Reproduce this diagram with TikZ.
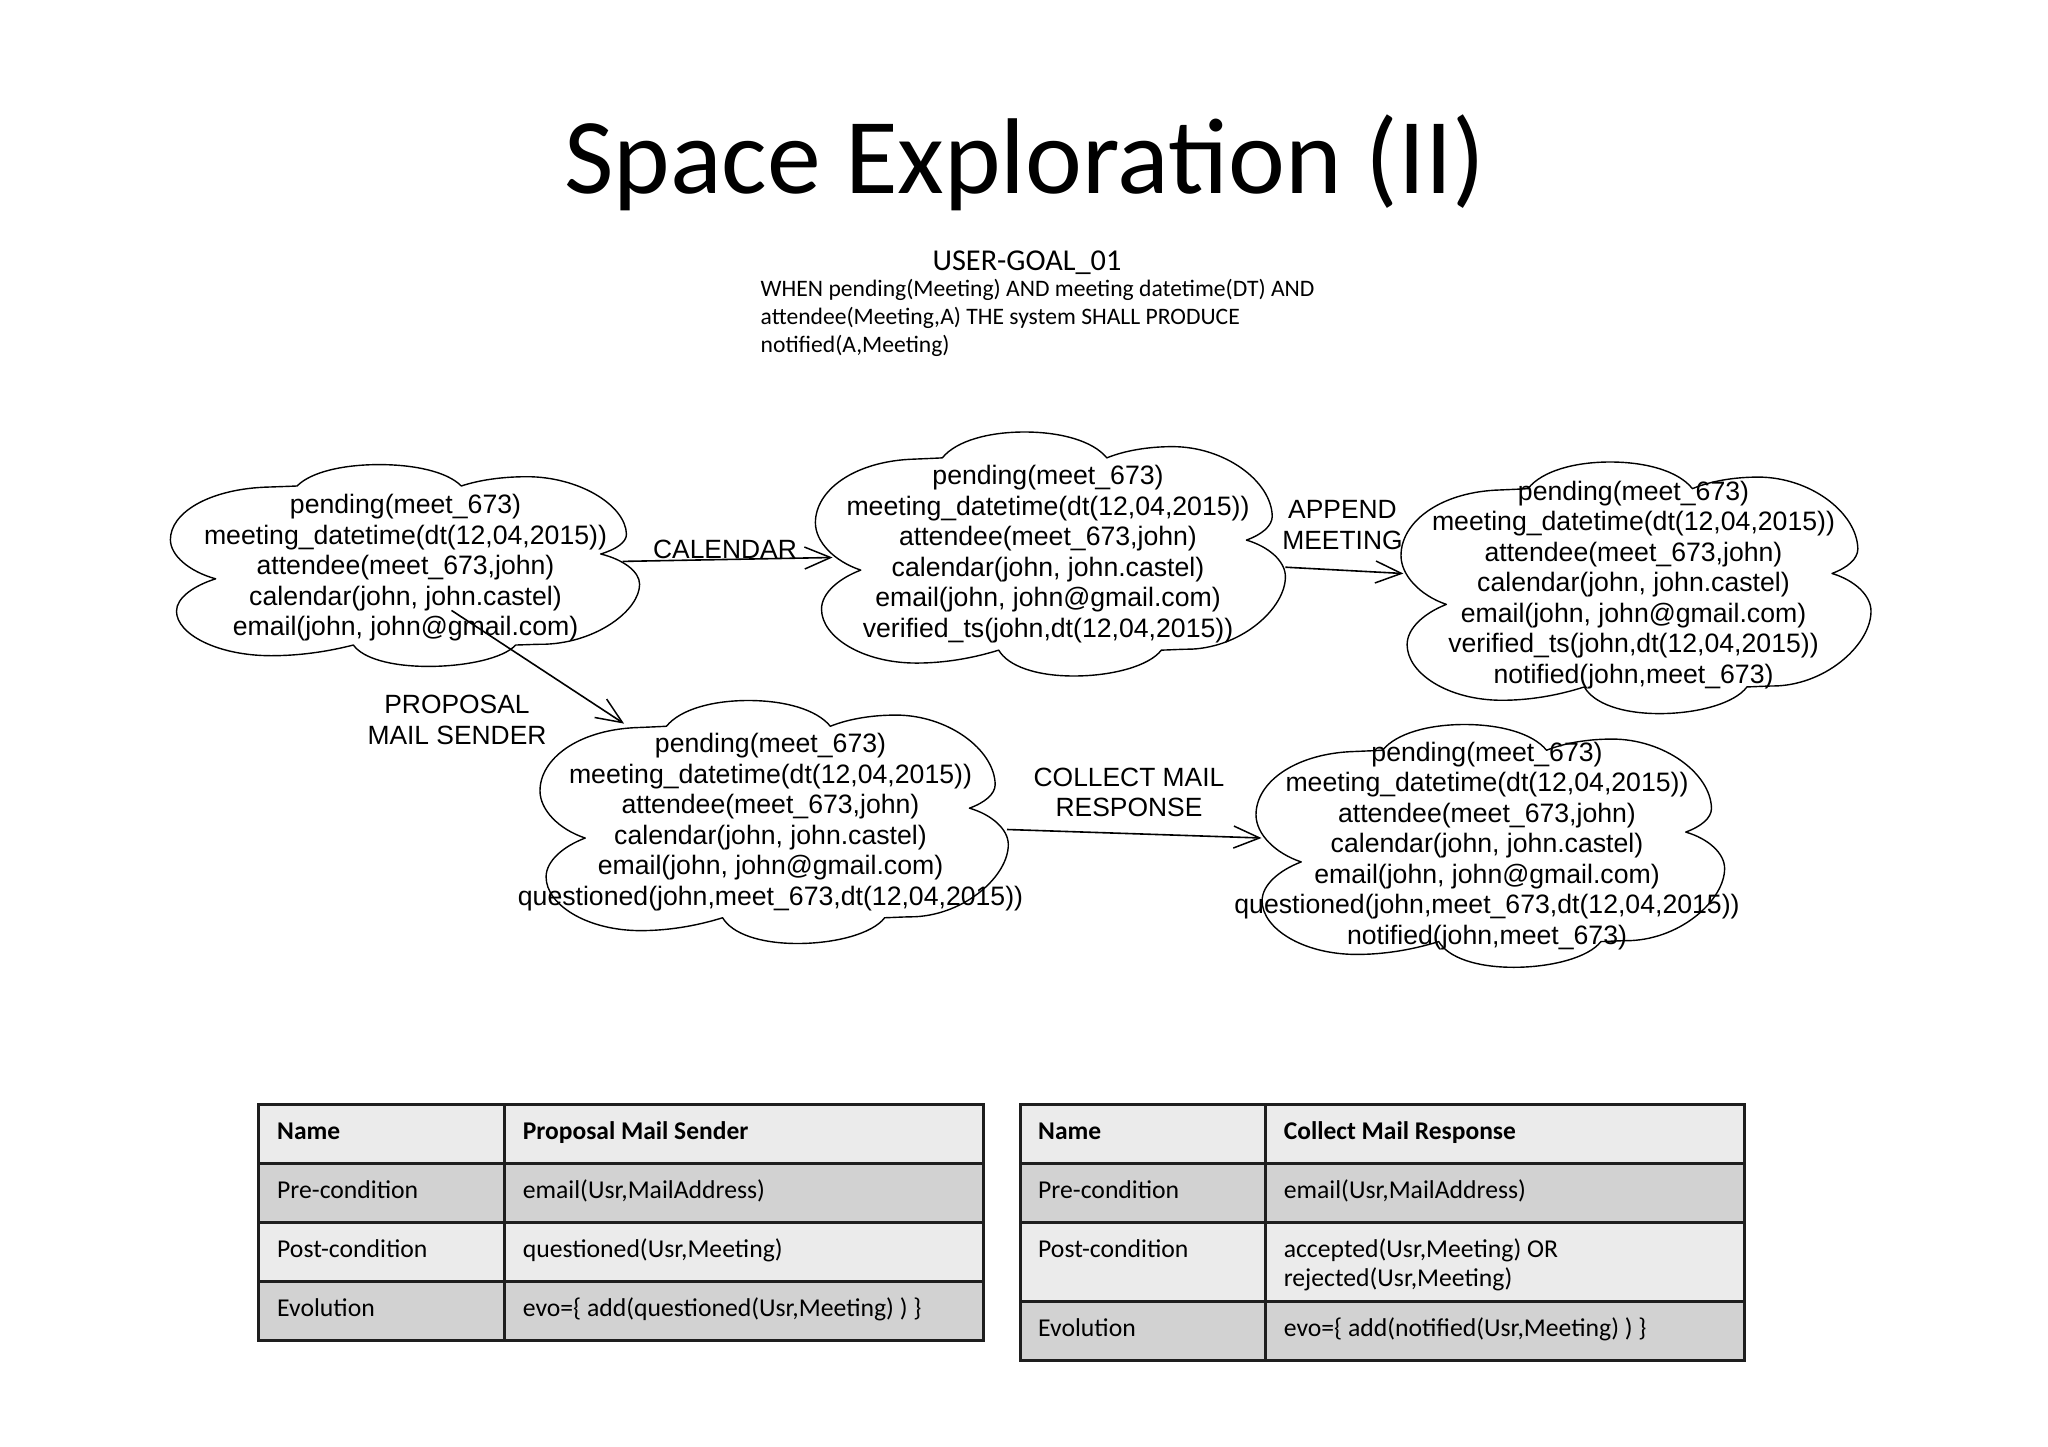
\documentclass[tikz,border=0pt]{standalone}
\usepackage{fontspec}
\setmainfont{Carlito}
\newfontfamily\helv{Liberation Sans}
\usetikzlibrary{arrows.meta}
\definecolor{rowlight}{HTML}{EBEBEB}
\definecolor{rowdark}{HTML}{D2D2D2}
\definecolor{rule}{HTML}{1E1E1E}
\newcommand{\cloudshape}[4]{%
  \begin{scope}[shift={(#1,#2)},x=#3pt,y=-#4pt]
  \draw[cloudline] (.27,.106)
    .. controls (.30,.035) and (.37,0) .. (.445,0)
    .. controls (.52,0) and (.59,.035) .. (.62,.106)
    .. controls (.66,.075) and (.71,.06) .. (.76,.06)
    .. controls (.87,.06) and (.97,.2) .. (.972,.345)
    .. controls (.972,.385) and (.95,.42) .. (.917,.443)
    .. controls (.965,.47) and (1,.53) .. (1,.593)
    .. controls (1,.72) and (.91,.88) .. (.80,.89)
    .. controls (.78,.89) and (.755,.893) .. (.736,.894)
    .. controls (.71,.96) and (.63,1) .. (.55,1)
    .. controls (.47,1) and (.41,.96) .. (.39,.894)
    .. controls (.33,.93) and (.27,.947) .. (.215,.947)
    .. controls (.10,.947) and (.013,.84) .. (.013,.726)
    .. controls (.013,.66) and (.05,.60) .. (.0965,.566)
    .. controls (.04,.53) and (0,.45) .. (0,.372)
    .. controls (0,.24) and (.08,.125) .. (.20,.112)
    .. controls (.225,.11) and (.25,.108) .. (.27,.106) -- cycle;
  \end{scope}}
\tikzset{
  cloudline/.style={draw=black,line width=1.4pt,line join=round},
  cloudtext/.style={font=\helv\fontsize{26.65}{30.5}\selectfont,align=center,inner sep=0pt,text=black},
  steplabel/.style={font=\helv\fontsize{26.4}{30.5}\selectfont,align=center,inner sep=0pt,text=black},
  conn/.style={draw=black,line width=1.6pt,-{Straight Barb[length=26pt,width=22pt,line width=1.5pt]}},
  titletext/.style={font=\fontsize{107.7}{112}\selectfont,anchor=base,inner sep=0pt},
  goalhead/.style={font=\fontsize{30.3}{32}\selectfont,anchor=base,inner sep=0pt},
  goaltext/.style={font=\fontsize{23.6}{27}\selectfont,anchor=base west,inner sep=0pt},
  celltext/.style={font=\fontsize{25.7}{29}\selectfont,anchor=base west,inner sep=0pt},
  cellhead/.style={font=\bfseries\fontsize{25.5}{29}\selectfont,anchor=base west,inner sep=0pt},
  cellbox/.style={draw=rule,line width=3pt}
}
\begin{document}
\begin{tikzpicture}[x=1pt,y=-1pt]
\useasboundingbox (0,0) rectangle (2048,1447);
% title
\node[titletext] (title) at (1025,194) {Space Exploration (II)};
\node[goalhead] (goalhead) at (1027,270.5) {USER-GOAL\_01};
\node[goaltext] (goal1) at (760.5,297) {WHEN pending(Meeting) AND meeting datetime(DT) AND};
\node[goaltext] (goal2) at (760.5,324.5) {attendee(Meeting,A) THE system SHALL PRODUCE};
\node[goaltext] (goal3) at (760.5,352.5) {notified(A,Meeting)};
% clouds
\cloudshape{170.4}{464.6}{469.2}{201.8}
\cloudshape{815.4}{432}{470}{244}
\cloudshape{1401}{462}{470}{251.6}
\cloudshape{540}{700.5}{468.3}{243}
\cloudshape{1256}{724.5}{468.6}{242.8}
% cloud text
\node[cloudtext] (c1) at (405.5,568) {pending(meet\_673)\\meeting\_datetime(dt(12,04,2015))\\attendee(meet\_673,john)\\calendar(john, john.castel)\\email(john, john@gmail.com)};
\node[cloudtext] (c2) at (1048,554.3) {pending(meet\_673)\\meeting\_datetime(dt(12,04,2015))\\attendee(meet\_673,john)\\calendar(john, john.castel)\\email(john, john@gmail.com)\\verified\_ts(john,dt(12,04,2015))};
\node[cloudtext] (c3) at (1633.5,584.7) {pending(meet\_673)\\meeting\_datetime(dt(12,04,2015))\\attendee(meet\_673,john)\\calendar(john, john.castel)\\email(john, john@gmail.com)\\verified\_ts(john,dt(12,04,2015))\\notified(john,meet\_673)};
\node[cloudtext] (c4) at (770.5,822) {pending(meet\_673)\\meeting\_datetime(dt(12,04,2015))\\attendee(meet\_673,john)\\calendar(john, john.castel)\\email(john, john@gmail.com)\\questioned(john,meet\_673,dt(12,04,2015))};
\node[cloudtext] (c5) at (1487,846) {pending(meet\_673)\\meeting\_datetime(dt(12,04,2015))\\attendee(meet\_673,john)\\calendar(john, john.castel)\\email(john, john@gmail.com)\\questioned(john,meet\_673,dt(12,04,2015))\\notified(john,meet\_673)};
% connectors
\draw[conn] ([shift={(217.1,-6.6)}]c1.center) -- ([shift={(-215.5,3.2)}]c2.center);
\draw[conn] ([shift={(46,42.4)}]c1.center) -- ([shift={(-146.5,-98.4)}]c4.center);
\draw[conn] ([shift={(237.4,12.9)}]c2.center) -- ([shift={(-230.2,-11.2)}]c3.center);
\draw[conn] ([shift={(236.5,7.5)}]c4.center) -- ([shift={(-225.5,-8)}]c5.center);
% labels
\node[steplabel,anchor=base] (lcal) at (725,558) {CALENDAR};
\node[steplabel] (lprop) at (457,720) {PROPOSAL\\MAIL SENDER};
\node[steplabel] (lapp) at (1342.5,525) {APPEND\\MEETING};
\node[steplabel] (lcol) at (1129,792.5) {COLLECT MAIL\\RESPONSE};
% table 1
\draw[cellbox,fill=rowlight] (258.9,1104.3) rectangle (504.8,1163.3);
\draw[cellbox,fill=rowlight] (504.8,1104.3) rectangle (983.4,1163.3);
\draw[cellbox,fill=rowdark] (258.9,1163.3) rectangle (504.8,1222.3);
\draw[cellbox,fill=rowdark] (504.8,1163.3) rectangle (983.4,1222.3);
\draw[cellbox,fill=rowlight] (258.9,1222.3) rectangle (504.8,1281.7);
\draw[cellbox,fill=rowlight] (504.8,1222.3) rectangle (983.4,1281.7);
\draw[cellbox,fill=rowdark] (258.9,1281.7) rectangle (504.8,1340);
\draw[cellbox,fill=rowdark] (504.8,1281.7) rectangle (983.4,1340);
\node[cellhead] (a1) at (277,1139) {Name};
\node[cellhead] (a2) at (522.6,1139) {Proposal Mail Sender};
\node[celltext] (a3) at (277,1198) {Pre-condition};
\node[celltext] (a4) at (522.6,1198) {email(Usr,MailAddress)};
\node[celltext] (a5) at (277,1257) {Post-condition};
\node[celltext] (a6) at (522.6,1257) {questioned(Usr,Meeting)};
\node[celltext] (a7) at (277,1316) {Evolution};
\node[celltext] (a8) at (522.6,1316) {evo=\{ add(questioned(Usr,Meeting) ) \}};
% table 2
\draw[cellbox,fill=rowlight] (1020.3,1104.3) rectangle (1265.4,1163.3);
\draw[cellbox,fill=rowlight] (1265.4,1104.3) rectangle (1744.8,1163.3);
\draw[cellbox,fill=rowdark] (1020.3,1163.3) rectangle (1265.4,1222.3);
\draw[cellbox,fill=rowdark] (1265.4,1163.3) rectangle (1744.8,1222.3);
\draw[cellbox,fill=rowlight] (1020.3,1222.3) rectangle (1265.4,1301);
\draw[cellbox,fill=rowlight] (1265.4,1222.3) rectangle (1744.8,1301);
\draw[cellbox,fill=rowdark] (1020.3,1301) rectangle (1265.4,1360);
\draw[cellbox,fill=rowdark] (1265.4,1301) rectangle (1744.8,1360);
\node[cellhead] (b1) at (1038,1139) {Name};
\node[cellhead] (b2) at (1283.6,1139) {Collect Mail Response};
\node[celltext] (b3) at (1038,1198) {Pre-condition};
\node[celltext] (b4) at (1283.6,1198) {email(Usr,MailAddress)};
\node[celltext] (b5) at (1038,1257) {Post-condition};
\node[celltext] (b6) at (1283.6,1257) {accepted(Usr,Meeting) OR};
\node[celltext] (b7) at (1283.6,1286.5) {rejected(Usr,Meeting)};
\node[celltext] (b8) at (1038,1336) {Evolution};
\node[celltext] (b9) at (1283.6,1336) {evo=\{ add(notified(Usr,Meeting) ) \}};
\end{tikzpicture}
\end{document}
